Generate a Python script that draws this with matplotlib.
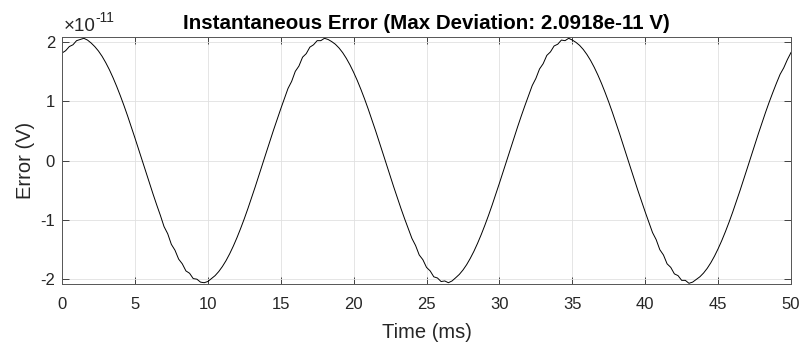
import numpy as np
import matplotlib
matplotlib.use("Agg")
import matplotlib.pyplot as plt
from matplotlib.ticker import FuncFormatter

plt.rcParams['font.family'] = ['Liberation Sans', 'DejaVu Sans']
plt.rcParams['axes.unicode_minus'] = False

# error, in units of 1e-11 V, one sample every 0.25 ms
error_e11 = [
    1.82, 1.86, 1.93, 1.96, 2.03, 2.05, 2.07, 2.04, 1.99, 1.929,
    1.855, 1.765, 1.658, 1.538, 1.403, 1.256, 1.098, 0.931, 0.755, 0.572,
    0.384, 0.193, 0.000, -0.193, -0.384, -0.572, -0.755, -0.931, -1.12, -1.24,
    -1.42, -1.52, -1.67, -1.75, -1.87, -1.91, -2.00, -2.01, -2.06, -2.07,
    -2.05, -2.001, -1.950, -1.881, -1.796, -1.696, -1.580, -1.450, -1.307, -1.152,
    -0.988, -0.814, -0.633, -0.447, -0.257, -0.064, 0.129, 0.321, 0.510, 0.694,
    0.873, 1.044, 1.22, 1.34, 1.51, 1.60, 1.75, 1.81, 1.92, 1.96,
    2.03, 2.03, 2.07, 2.05, 2.014, 1.969, 1.906, 1.827, 1.731, 1.620,
    1.494, 1.356, 1.205, 1.044, 0.873, 0.694, 0.510, 0.321, 0.129, -0.064,
    -0.257, -0.447, -0.633, -0.814, -0.988, -1.152, -1.32, -1.44, -1.60, -1.68,
    -1.81, -1.87, -1.97, -1.99, -2.05, -2.04, -2.07, -2.04, -1.986, -1.929,
    -1.855, -1.765, -1.658, -1.538, -1.403, -1.256, -1.098, -0.931, -0.755, -0.572,
    -0.384, -0.193, 0.000, 0.193, 0.384, 0.572, 0.755, 0.931, 1.098, 1.27,
    1.39, 1.55, 1.64, 1.78, 1.84, 1.94, 1.97, 2.04, 2.03, 2.07,
    2.04, 2.001, 1.950, 1.881, 1.796, 1.696, 1.580, 1.450, 1.307, 1.152,
    0.988, 0.814, 0.633, 0.447, 0.257, 0.064, -0.129, -0.321, -0.510, -0.694,
    -0.873, -1.044, -1.22, -1.34, -1.51, -1.60, -1.75, -1.81, -1.92, -1.95,
    -2.03, -2.03, -2.08, -2.06, -2.014, -1.969, -1.906, -1.827, -1.731, -1.620,
    -1.494, -1.356, -1.205, -1.044, -0.873, -0.694, -0.510, -0.321, -0.129, 0.064,
    0.257, 0.447, 0.633, 0.814, 0.988, 1.152, 1.31, 1.46, 1.57, 1.71,
    1.83,
]
t_start, t_end = 0, 50  # ms
scale = 1e-11
max_dev = 2.0918e-11
x_ticks = list(range(0, 51, 5))
y_ticks = [-2e-11, -1e-11, 0, 1e-11, 2e-11]

time_ms = np.linspace(t_start, t_end, len(error_e11))
error_v = np.array(error_e11) * scale

dark = '#262626'

fig = plt.figure(figsize=(8.03, 3.44), dpi=100)
ax = fig.add_axes([0.0772, 0.1744, 0.9079, 0.718])

ax.plot(time_ms, error_v, color='black', lw=0.7)

ax.set_xlim(t_start, t_end)
ax.set_ylim(-max_dev, max_dev)
ax.set_xticks(x_ticks)
ax.set_yticks(y_ticks)
ax.yaxis.set_major_formatter(FuncFormatter(lambda v, p: f'{v / scale:g}'))

# MATLAB-style exponent above the y axis
ax.annotate('\u00d710', xy=(0, 1), xycoords='axes fraction', xytext=(1.5, 4.3),
            textcoords='offset points', fontsize=13.5, color=dark, va='baseline')
ax.annotate('-11', xy=(0, 1), xycoords='axes fraction', xytext=(24, 10.5),
            textcoords='offset points', fontsize=10, color=dark, va='baseline')

ax.grid(True, color='#e0e0e0', lw=0.6)
ax.set_axisbelow(True)

ax.tick_params(direction='in', top=True, right=True, length=5, width=0.6,
               color=dark, labelcolor=dark, labelsize=12)
ax.tick_params(axis='x', pad=9)
ax.tick_params(axis='y', pad=5)
for s in ax.spines.values():
    s.set_color('#555555')
    s.set_linewidth(0.7)

ax.set_xlabel('Time (ms)', fontsize=14.5, color=dark, labelpad=8)
ax.set_ylabel('Error (V)', fontsize=14.5, color=dark, labelpad=4)
ax.set_title('Instantaneous Error (Max Deviation: 2.0918e-11 V)',
             fontsize=14.8, fontweight='bold', color='black', pad=6)

fig.savefig('out.png', dpi=100)
